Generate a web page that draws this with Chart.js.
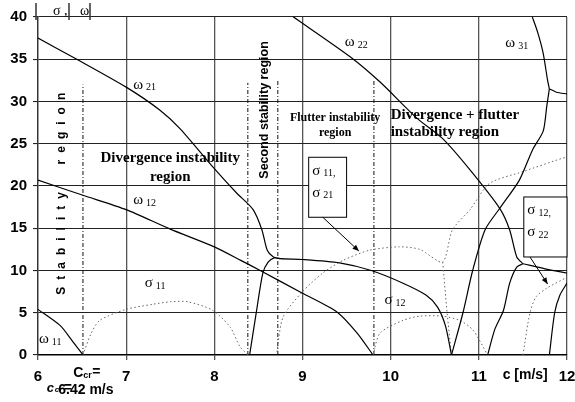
<!DOCTYPE html>
<html lang="en">
<head>
<meta charset="UTF-8">
<title>Stability regions</title>
<script src="https://cdn.jsdelivr.net/npm/chart.js"></script>
<style>
  html, body { margin: 0; padding: 0; background: #fff; }
  #wrap { width: 575px; height: 402px; }
</style>
</head>
<body>
<div id="wrap"><canvas id="chart" width="575" height="402"></canvas></div>
<script>
// x ticks (flow speed c, m/s) and y ticks (sigma, omega)
const xTicks = [6, 7, 8, 9, 10, 11, 12];
const yTicks = [0, 5, 10, 15, 20, 25, 30, 35, 40];

// solid curves (omega branches), [c, value]
const omega21 = [[6, 37.5], [6.44, 35], [7, 31.7], [7.38, 29], [7.61, 26.8], [7.98, 22.3], [8.25, 19.2], [8.44, 17.2],
  [8.54, 14.8], [8.6, 12.4], [8.67, 11.6], [8.75, 11.4], [9, 11.3], [9.42, 10.9], [9.78, 10], [10.14, 8.5],
  [10.4, 7.1], [10.53, 5.7], [10.62, 3.5], [10.69, 0]];
const omega12 = [[6, 20.7], [6.51, 18.9], [7, 17.2], [7.5, 14.9], [8, 12.8], [8.3, 11.2], [8.52, 10], [9, 7.3],
  [9.39, 5.1], [9.62, 2.6], [9.8, 0]];
const omega11 = [[6, 5.4], [6.25, 3.5], [6.38, 1.8], [6.51, 0]];
const riseA = [[8.4, 0], [8.48, 5.3], [8.55, 9.7], [8.61, 11], [8.68, 11.5], [8.75, 11.4]];
const riseB = [[10.69, 0], [10.82, 5], [10.93, 10], [11.07, 14.8], [11.24, 17.4], [11.46, 20.7], [11.61, 24.3],
  [11.73, 26.5], [11.77, 29.4], [11.8, 31.5]];
const omega22 = [[8.87, 40.2], [9.54, 35.3], [9.88, 32.3], [10.3, 28], [10.59, 25.6], [10.9, 21.9], [11.24, 17.3],
  [11.35, 14.8], [11.43, 11.6], [11.5, 10.8]];
const tailRight = [[11.5, 10.8], [11.75, 10.2], [12, 9.7]];
const tailDown = [[11.5, 10.8], [11.43, 10.4], [11.35, 8.5], [11.28, 5.3], [11.18, 3], [11.1, 0]];
const omega31 = [[11.6, 40.2], [11.67, 38.1], [11.73, 35.7], [11.78, 32.5], [11.8, 31.5]];
const omega31b = [[11.8, 31.5], [11.88, 31.1], [12, 30.9]];
const edgeRise = [[11.8, 0], [11.86, 5], [11.92, 7.1], [12, 8.5]];

// dotted curves (sigma branches)
const sigma11 = [[6.51, 0], [6.6, 2.5], [6.7, 4.1], [7, 5.4], [7.3, 6], [7.5, 6.3], [7.7, 6.3], [7.98, 5.3],
  [8.18, 3.3], [8.29, 1], [8.38, 0]];
const sigma21 = [[8.71, 0.4], [8.78, 4.5], [9, 7.5], [9.23, 9.7], [9.46, 11.2], [9.76, 12.4], [10.1, 12.8],
  [10.33, 12.5], [10.59, 11], [10.7, 14.8], [10.9, 17.2], [11.12, 20.3], [11.5, 21.7], [11.95, 23.3], [12, 23.4]];
const sigmaDrop = [[10.59, 11], [10.64, 5], [10.69, 0]];
const sigma12 = [[9.8, 0], [9.88, 2.6], [10.14, 4.1], [10.33, 4.6], [10.59, 4.6], [10.78, 4.1], [10.93, 3], [11.1, 0]];
const sigma22 = [[11.5, 0], [11.58, 5], [11.65, 6.9], [11.77, 7.9], [12, 9.2]];

// region boundaries (dashed verticals): c position and top
const boundC = [6.51, 8.38, 8.72, 9.81];
const boundTop = [32, 32.2, 32.5, 32.5];

const toPts = arr => arr.map(p => ({ x: p[0], y: p[1] }));

const solid = (data) => ({ data: toPts(data), showLine: true, borderColor: '#000', borderWidth: 1.2,
  pointRadius: 0, tension: 0.25 });
const dotted = (data) => ({ data: toPts(data), showLine: true, borderColor: '#666', borderWidth: 1,
  borderDash: [1.5, 2.5], pointRadius: 0, tension: 0.25 });

const datasets = [
  ...[omega21, omega12, omega11, riseA, riseB, omega22, tailRight, tailDown, omega31, omega31b, edgeRise].map(solid),
  ...[sigma11, sigma21, sigmaDrop, sigma12, sigma22].map(dotted),
  ...boundC.map((c, i) => ({ data: [{ x: c, y: 0 }, { x: c, y: boundTop[i] }], showLine: true,
    borderColor: '#111', borderWidth: 1, borderDash: [4, 2, 1, 2], pointRadius: 0 }))
];

// text, boxes and arrows
const annotations = {
  id: 'annotations',
  afterDatasetsDraw(chart) {
    const { ctx, scales: { x, y } } = chart;
    const px = v => x.getPixelForValue(v);
    const py = v => y.getPixelForValue(v);
    ctx.save();
    ctx.fillStyle = '#000';
    ctx.strokeStyle = '#000';

    const greek = (sym, sub, cx, cy) => {
      ctx.font = '15px "Liberation Serif"';
      ctx.textAlign = 'left';
      ctx.textBaseline = 'middle';
      ctx.fillText(sym, px(cx), py(cy));
      const w = ctx.measureText(sym).width;
      ctx.font = '10px "Liberation Serif"';
      ctx.fillText(sub, px(cx) + w + 3, py(cy) + 3);
    };
    greek('ω', '21', 7.08, 32);
    greek('ω', '22', 9.48, 37);
    greek('ω', '31', 11.3, 36.9);
    greek('ω', '12', 7.08, 18.3);
    greek('ω', '11', 6.01, 1.9);
    greek('σ', '11', 7.21, 8.5);
    greek('σ', '12', 9.93, 6.5);

    // region names
    ctx.textBaseline = 'middle';
    ctx.textAlign = 'center';
    ctx.font = 'bold 15px "Liberation Serif"';
    ctx.fillText('Divergence instability', px(7.5), py(23.3));
    ctx.fillText('region', px(7.5), py(21.1));
    ctx.font = 'bold 12px "Liberation Serif"';
    ctx.fillText('Flutter instability', px(9.37), py(28));
    ctx.fillText('region', px(9.37), py(26.3));
    ctx.textAlign = 'left';
    ctx.font = 'bold 15px "Liberation Serif"';
    ctx.fillText('Divergence + flutter', px(10.0), py(28.4));
    ctx.fillText('instability region', px(10.0), py(26.4));

    // rotated labels
    ctx.save();
    ctx.translate(px(6.27), py(19.5));
    ctx.rotate(-Math.PI / 2);
    ctx.font = 'bold 12px "Liberation Sans"';
    ctx.textAlign = 'center';
    ctx.letterSpacing = '7px';
    ctx.fillText('Stability  region', 0, 0);
    ctx.restore();
    ctx.save();
    ctx.translate(px(8.57), py(29));
    ctx.rotate(-Math.PI / 2);
    ctx.font = 'bold 12.5px "Liberation Sans"';
    ctx.textAlign = 'center';
    ctx.fillText('Second stability region', 0, 0);
    ctx.restore();

    // boxes with sigma labels
    const box = (x0, y0, x1, y1, a, b) => {
      ctx.fillStyle = '#fff';
      ctx.fillRect(px(x0), py(y0), px(x1) - px(x0), py(y1) - py(y0));
      ctx.lineWidth = 1;
      ctx.strokeStyle = '#000';
      ctx.strokeRect(px(x0), py(y0), px(x1) - px(x0), py(y1) - py(y0));
      ctx.fillStyle = '#000';
      greek('σ', a, x0 + 0.04, y0 - 1.6);
      greek('σ', b, x0 + 0.04, y0 - 4.2);
    };
    box(9.07, 23.4, 9.5, 16.3, '11,', '21');
    box(11.51, 18.7, 12.0, 11.6, '12,', '22');

    const arrow = (x0, y0, x1, y1) => {
      const a = [px(x0), py(y0)], b = [px(x1), py(y1)];
      const ang = Math.atan2(b[1] - a[1], b[0] - a[0]);
      ctx.lineWidth = 1;
      ctx.beginPath();
      ctx.moveTo(a[0], a[1]);
      ctx.lineTo(b[0], b[1]);
      ctx.stroke();
      ctx.beginPath();
      ctx.moveTo(b[0], b[1]);
      ctx.lineTo(b[0] - 7 * Math.cos(ang - 0.4), b[1] - 7 * Math.sin(ang - 0.4));
      ctx.lineTo(b[0] - 7 * Math.cos(ang + 0.4), b[1] - 7 * Math.sin(ang + 0.4));
      ctx.closePath();
      ctx.fill();
    };
    arrow(9.23, 16.3, 9.64, 12.3);
    arrow(11.58, 11.6, 11.78, 8.4);

    // axis titles and the critical speed note
    const left = chart.chartArea.left, bottom = chart.chartArea.bottom;
    ctx.font = 'bold 14px "Liberation Sans"';
    ctx.textAlign = 'left';
    ctx.textBaseline = 'middle';
    ctx.fillText('c [m/s]', px(11.27), bottom + 20);
    ctx.fillText('C', px(6.4), bottom + 18);
    ctx.font = 'bold 9px "Liberation Sans"';
    ctx.fillText('cr', px(6.4) + 10, bottom + 21);
    ctx.font = 'bold 14px "Liberation Sans"';
    ctx.fillText('=', px(6.4) + 19, bottom + 17);
    ctx.font = 'bold italic 13px "Liberation Sans"';
    ctx.fillText('c', px(6.1), bottom + 33);
    ctx.font = 'bold italic 8px "Liberation Sans"';
    ctx.fillText('cr', px(6.1) + 8, bottom + 35);
    ctx.font = 'bold 14px "Liberation Sans"';
    ctx.fillText('=', px(6.1) + 17, bottom + 33);
    ctx.fillText('6.42 m/s', px(6.23), bottom + 35);

    ctx.font = '14px "Liberation Serif"';
    ctx.fillText('σ ,', left + 15, 11);
    ctx.fillText('ω', left + 42, 11);
    ctx.lineWidth = 1.5;
    ctx.strokeStyle = '#333';
    [left - 2, left + 31, left + 52].forEach(xp => {
      ctx.beginPath();
      ctx.moveTo(xp, 3);
      ctx.lineTo(xp, 20);
      ctx.stroke();
    });
    ctx.restore();
  }
};

new Chart(document.getElementById('chart'), {
  type: 'scatter',
  data: { datasets },
  options: {
    responsive: false,
    animation: false,
    layout: { padding: { top: 17, right: 8, left: 0, bottom: 0 } },
    plugins: { legend: { display: false }, tooltip: { enabled: false } },
    scales: {
      x: {
        type: 'linear', min: 6, max: 12,
        afterBuildTicks: s => { s.ticks = xTicks.map(v => ({ value: v })); },
        afterFit: s => { s.height = 47; s.paddingLeft = 0; s.paddingRight = 0; },
        grid: { color: '#555', lineWidth: 1.3, tickLength: 5 },
        border: { color: '#000', width: 1.6 },
        ticks: { color: '#000', padding: 8, font: { family: 'Liberation Sans', size: 15, weight: 'bold' } }
      },
      y: {
        type: 'linear', min: 0, max: 40,
        afterBuildTicks: s => { s.ticks = yTicks.map(v => ({ value: v })); },
        afterFit: s => { s.width = 38; s.paddingTop = 0; s.paddingBottom = 0; },
        grid: { color: '#222', lineWidth: 1.1, tickLength: 5 },
        border: { color: '#333', width: 1.3 },
        ticks: { color: '#000', padding: 6, font: { family: 'Liberation Sans', size: 15, weight: 'bold' } }
      }
    }
  },
  plugins: [annotations]
});
</script>
</body>
</html>
